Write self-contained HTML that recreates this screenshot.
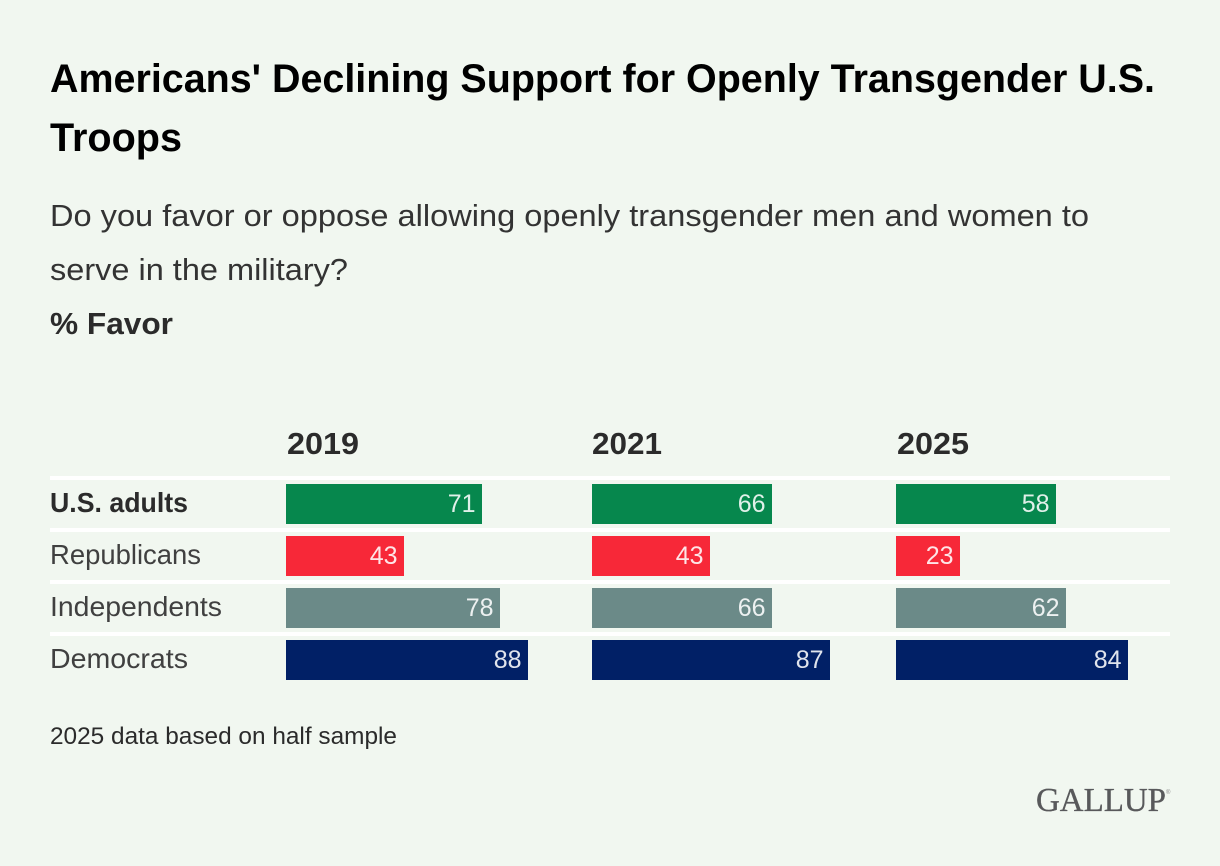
<!DOCTYPE html>
<html lang="en">
<head>
<meta charset="utf-8">
<title>Americans' Declining Support for Openly Transgender U.S. Troops</title>
<style>
html,body{margin:0;padding:0;background:#f1f7f0;}
svg{display:block;font-family:"Liberation Sans",sans-serif;}
</style>
</head>
<body>
<svg id="chart" xmlns="http://www.w3.org/2000/svg" width="1220" height="866" viewBox="0 0 1220 866">
  <rect x="0" y="0" width="1220" height="866" fill="#f1f7f0"/>
  <text x="50" y="92" font-size="40" font-weight="700" fill="#000" textLength="1105" lengthAdjust="spacingAndGlyphs">Americans' Declining Support for Openly Transgender U.S.</text>
  <text x="50" y="151" font-size="40" font-weight="700" fill="#000" textLength="132" lengthAdjust="spacingAndGlyphs">Troops</text>
  <text x="50" y="226" font-size="31" fill="#333" textLength="1039" lengthAdjust="spacingAndGlyphs">Do you favor or oppose allowing openly transgender men and women to</text>
  <text x="50" y="280" font-size="31" fill="#333" textLength="298" lengthAdjust="spacingAndGlyphs">serve in the military?</text>
  <text x="50" y="334" font-size="31" font-weight="700" fill="#2b2b2b" textLength="123" lengthAdjust="spacingAndGlyphs">% Favor</text>
  <g id="plot"></g>
  <text x="50" y="744" font-size="24.5" fill="#2b2b2b" textLength="347" lengthAdjust="spacingAndGlyphs">2025 data based on half sample</text>
  <text x="1036" y="811" font-family="'Liberation Serif',serif" font-size="34" fill="#58595b" stroke="#58595b" stroke-width="0.35" textLength="130" lengthAdjust="spacingAndGlyphs">GALLUP</text>
  <text x="1166" y="794" font-size="6" fill="#8a8a8a">®</text>
</svg>
<script>
const years = ['2019', '2021', '2025'];
const groups = ['U.S. adults', 'Republicans', 'Independents', 'Democrats'];
const values2019 = [71.3, 43, 77.8, 88];
const values2021 = [65.5, 43, 65.5, 86.6];
const values2025 = [58.2, 23.3, 61.8, 84.4];
const printed2019 = [71, 43, 78, 88];
const printed2021 = [66, 43, 66, 87];
const printed2025 = [58, 23, 62, 84];

const seriesValues = [values2019, values2021, values2025];
const seriesPrinted = [printed2019, printed2021, printed2025];
const colours = ['#06874d', '#f72838', '#6b8a88', '#012066'];
const labelWidths = [138, 151, 172, 138];
const NS = 'http://www.w3.org/2000/svg';
const plot = document.getElementById('plot');

function xPanel(i) { return [286, 592, 896][i]; }
function yRow(i) { return 484 + i * 52; }
function widthFor(v) { return Math.round(v * 2.75); }

function make(tag, attrs, parent, text) {
  const el = document.createElementNS(NS, tag);
  Object.keys(attrs).forEach(function (k) { el.setAttribute(k, attrs[k]); });
  if (text !== undefined) el.textContent = text;
  parent.appendChild(el);
  return el;
}

groups.forEach(function (group, r) {
  const rule = make('rect', { x: 50, y: yRow(r) - 8, width: 1120, height: 4, fill: '#ffffff' }, plot);
  
  

  const label = make('text', {
    x: 50, y: yRow(r) + 28, 'font-size': 28,
    'font-weight': r === 0 ? 700 : 400,
    fill: r === 0 ? '#2b2b2b' : '#404040',
    textLength: labelWidths[r], lengthAdjust: 'spacingAndGlyphs'
  }, plot, group);
  
  
});

years.forEach(function (year, c) {
  const head = make('text', {
    x: xPanel(c) + (c === 1 ? 0 : 1), y: 454, 'font-size': 31, 'font-weight': 700, fill: '#2b2b2b',
    textLength: c === 1 ? 70 : 72, lengthAdjust: 'spacingAndGlyphs'
  }, plot, year);
  
  

  groups.forEach(function (group, r) {
    const w = widthFor(seriesValues[c][r]);
    const bar = make('rect', { x: xPanel(c), y: yRow(r), width: w, height: 40, fill: colours[r] }, plot);
    
    

    const val = make('text', {
      x: xPanel(c) + w - 6.5, y: yRow(r) + 28, 'font-size': 25, 'text-anchor': 'end',
      fill: '#ffffff', 'fill-opacity': 0.88
    }, plot, seriesPrinted[c][r]);
    
    
  });
});
</script>
</body>
</html>
